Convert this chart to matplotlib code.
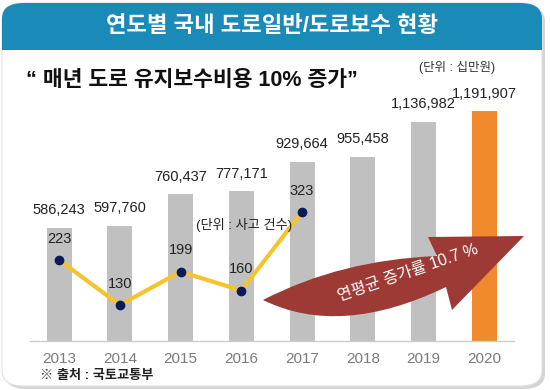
import matplotlib
matplotlib.use("Agg")
import matplotlib.pyplot as plt
from matplotlib.patches import FancyBboxPatch, Rectangle, PathPatch
from matplotlib.path import Path

plt.rcParams['font.family'] = ['Liberation Sans', 'Noto Sans CJK KR', 'DejaVu Sans']

years = ['2013', '2014', '2015', '2016', '2017', '2018', '2019', '2020']
cost = [586243, 597760, 760437, 777171, 929664, 955458, 1136982, 1191907]
acc_years = ['2013', '2014', '2015', '2016', '2017']
accidents = [223, 130, 199, 160, 323]

W, H = 550, 390
fig = plt.figure(figsize=(W / 100, H / 100), dpi=100)
fig.patch.set_facecolor('white')


def px(x, y):
    # pixel coords from top-left -> figure fraction
    return x / W, 1 - y / H


# card with shadow
shadow = FancyBboxPatch(px(5, 389), 540 / W, 383 / H, boxstyle="round,pad=0,rounding_size=0.04",
                        transform=fig.transFigure, fc='#d4d4d4', ec='none', zorder=0)
card = FancyBboxPatch(px(2, 386), 540 / W, 383 / H, boxstyle="round,pad=0,rounding_size=0.04",
                      transform=fig.transFigure, fc='white', ec='#e2e2e2', lw=0.8, zorder=0.1)
fig.patches.extend([shadow, card])

# title banner
blue = '#1a8ab8'
banner = FancyBboxPatch(px(2, 50), 540 / W, 47 / H, boxstyle="round,pad=0,rounding_size=0.04",
                        transform=fig.transFigure, fc=blue, ec='none', zorder=0.2)
banner_sq = Rectangle(px(2, 50), 540 / W, 20 / H, transform=fig.transFigure,
                      fc=blue, ec='none', zorder=0.3)
fig.patches.extend([banner, banner_sq])
fig.text(*px(272, 27), '연도별 국내 도로일반/도로보수 현황', color='white', fontsize=16,
         fontweight='bold', ha='center', va='center')

fig.text(*px(26, 80), '“ 매년 도로 유지보수비용 10% 증가”', color='#111111', fontsize=15.5,
         fontweight='bold', ha='left', va='center')
fig.text(*px(457, 67), '(단위 : 십만원)', color='#333333', fontsize=9, ha='center', va='center')
fig.text(*px(40, 376), '※ 출처 : 국토교통부', color='#222222', fontsize=9.5, fontweight='bold',
         ha='left', va='center')

# main axes
ax = fig.add_axes([30 / W, 49 / H, 484 / W, 241 / H])
ax.set_zorder(1)
ax.set_facecolor('none')
x = list(range(len(years)))
colors = ['#c0c0c0'] * 7 + ['#f08a2c']
ax.bar(x, cost, width=0.41, color=colors, zorder=2)
for xi, v in zip(x, cost):
    ax.text(xi, v + 90000, f'{v:,}', ha='center', va='center', fontsize=10.5, color='#222222')
ax.set_xlim(-0.48, 7.49)
ax.set_ylim(0, 1248700)
ax.set_xticks(x)
ax.set_xticklabels(years, fontsize=11, color='#7a7a7a')
ax.tick_params(axis='x', length=0, pad=8)
ax.set_yticks([])
for s in ['left', 'right', 'top']:
    ax.spines[s].set_visible(False)
ax.spines['bottom'].set_color('#cccccc')
ax.spines['bottom'].set_linewidth(1)

ax2 = ax.twinx()
ax2.set_zorder(2)
ax2.set_facecolor('none')
ax2.set_ylim(55.3, 555)
xa = [years.index(y) for y in acc_years]
ax2.plot(xa, accidents, color='#f5c42c', lw=3, zorder=3)
ax2.plot(xa, accidents, 'o', color='#0b1a5a', ms=6, zorder=4)
for xi, v in zip(xa, accidents):
    ax2.text(xi, v + 44, str(v), ha='center', va='center', fontsize=10.5, color='#222222')
ax2.set_yticks([])
for s in ['left', 'right', 'top', 'bottom']:
    ax2.spines[s].set_visible(False)
ax2.text(3.05, 296, '(단위 : 사고 건수)', ha='center', va='center', fontsize=9.5, color='#222222')

# growth arrow
pts = [(263, 300), (340, 260), (437, 256), (428, 237), (524, 236),
       (452, 310), (446, 287), (340, 338), (263, 300)]
codes = [Path.MOVETO, Path.CURVE3, Path.CURVE3, Path.LINETO, Path.LINETO,
         Path.LINETO, Path.LINETO, Path.CURVE3, Path.CURVE3]
verts = [px(a, b) for a, b in pts]
arrow = PathPatch(Path(verts, codes), transform=fig.transFigure, fc='#9e3a35', ec='none', zorder=5)
fig.patches.append(arrow)
fig.text(*px(408, 273), '연평균 증가률 10.7 %', color='white', fontsize=11.5, rotation=19,
         ha='center', va='center', zorder=6)

fig.savefig('out.png', dpi=100)
